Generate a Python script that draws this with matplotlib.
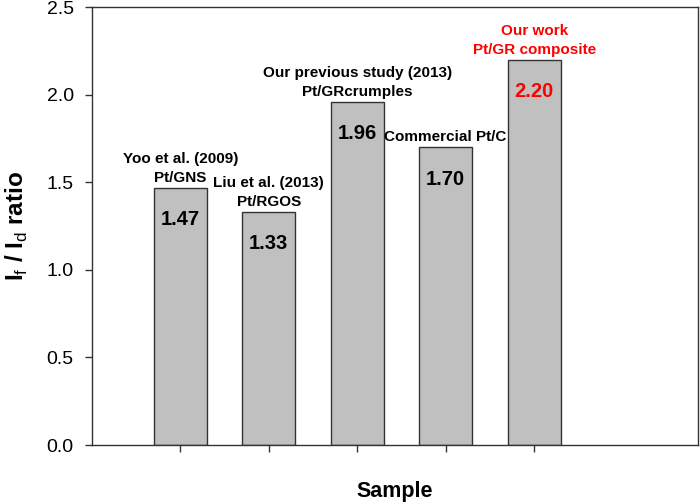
import matplotlib
matplotlib.use("Agg")
from matplotlib import pyplot as plt
import numpy as np

plt.rcParams['font.family'] = ['Liberation Sans', 'DejaVu Sans']
plt.rcParams['mathtext.fontset'] = 'custom'
plt.rcParams['mathtext.rm'] = 'Liberation Sans'
plt.rcParams['mathtext.bf'] = 'Liberation Sans:bold'

# data
samples = ['Yoo et al. (2009)\nPt/GNS',
           'Liu et al. (2013)\nPt/RGOS',
           'Our previous study (2013)\nPt/GRcrumples',
           'Commercial Pt/C',
           'Our work\nPt/GR composite']
ratio = [1.47, 1.33, 1.96, 1.70, 2.20]
text_colors = ['black', 'black', 'black', 'black', 'red']

fig = plt.figure(figsize=(7.0, 5.04), dpi=100)
ax = fig.add_axes([0.131, 0.117, 0.866, 0.869])

x = np.arange(len(ratio))
ax.bar(x, ratio, width=0.6, color='#c0c0c0', edgecolor='#333333', linewidth=1.0)

for xi, val, lab, col in zip(x, ratio, samples, text_colors):
    ax.annotate(lab, (xi, val), xytext=(0, 2), textcoords='offset points',
                ha='center', va='bottom', fontsize=11, fontweight='bold',
                color=col, linespacing=1.45)
    ax.annotate('%.2f' % val, (xi, val), xytext=(0, -23), textcoords='offset points',
                ha='center', va='center', fontsize=14.5, fontweight='bold', color=col)

ax.set_xlim(-1.0, 5.85)
ax.set_ylim(0, 2.5)
ax.set_xticks(x)
ax.set_xticklabels([])
ax.set_yticks(np.arange(0, 2.51, 0.5))
ax.yaxis.set_major_formatter(matplotlib.ticker.FormatStrFormatter('%.1f'))
ax.tick_params(axis='both', direction='out', length=5, width=1.0, color='#333333',
               labelsize=14, pad=8)
for s in ax.spines.values():
    s.set_color('#333333')
    s.set_linewidth(1.0)

ax.set_xlabel('Sample', fontsize=15.5, fontweight='bold', labelpad=13)
ax.set_ylabel(r'I$_\mathrm{f}$ / I$_\mathrm{d}$ ratio', fontsize=17.5, fontweight='bold',
              labelpad=12)

plt.savefig('out.png', dpi=100)
